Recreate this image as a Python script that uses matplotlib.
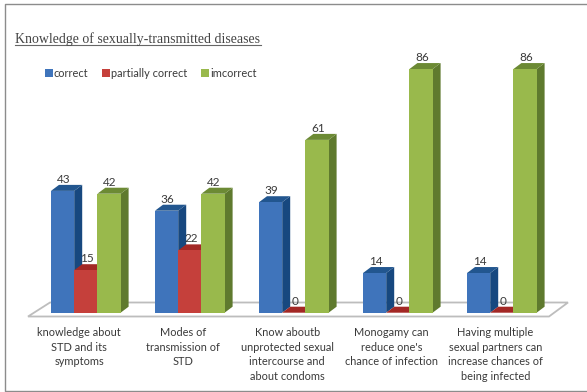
import matplotlib
matplotlib.use("Agg")
import matplotlib.pyplot as plt
from matplotlib.lines import Line2D
from matplotlib.patches import Polygon

categories = [
    "knowledge about\nSTD and its\nsymptoms",
    "Modes of\ntransmission of\nSTD",
    "Know aboutb\nunprotected sexual\nintercourse and\nabout condoms",
    "Monogamy can\nreduce one's\nchance of infection",
    "Having multiple\nsexual partners can\nincrease chances of\nbeing infected",
]
series_names = ["correct", "partially correct", "imcorrect"]
correct = [43, 36, 39, 14, 14]
partially_correct = [15, 22, 0, 0, 0]
incorrect = [42, 42, 61, 86, 86]

W, H = 587, 392
PX_GROUP = 104.0
PX_UNIT = 2.833
X0_PX = 85.8
Y0_PX = 312.7
BAR_W = 23.2 / PX_GROUP
DX = 8.0 / PX_GROUP
DY = 6.0 / PX_UNIT

FRONT = ["#3f74bb", "#c5403b", "#99b94c"]
SIDE = ["#17487f", "#8c2421", "#5f7a2e"]
TOP = ["#22568f", "#a32825", "#6c8a34"]
INK = "#3a3a3a"


def px_x(px):
    return (px - X0_PX) / PX_GROUP


def px_y(px):
    return (Y0_PX - px) / PX_UNIT


def draw_depth(ax, x, value, k):
    # side and top faces give the bar its extruded look
    left, right = x - BAR_W / 2, x + BAR_W / 2
    ax.add_patch(Polygon(
        [(right, 0), (right + DX, DY), (right + DX, value + DY), (right, value)],
        closed=True, facecolor=SIDE[k], edgecolor="none", zorder=3 + k * 0.1,
    ))
    ax.add_patch(Polygon(
        [(left, value), (left + DX, value + DY), (right + DX, value + DY), (right, value)],
        closed=True, facecolor=TOP[k], edgecolor="none", zorder=3 + k * 0.1,
    ))


def main():
    fig = plt.figure(figsize=(W / 100, H / 100), dpi=100, facecolor="white")
    ax = fig.add_axes([0, 0, 1, 1])
    ax.set_xlim(px_x(0), px_x(W))
    ax.set_ylim(px_y(H), px_y(0))
    ax.axis("off")

    # frame runs off the right edge, so it is three lines rather than a box
    fig.add_artist(Line2D(
        [1, 4.5 / W, 4.5 / W, 1],
        [1 - 4 / H, 1 - 4 / H, 1 - 390.5 / H, 1 - 390.5 / H],
        transform=fig.transFigure, color="#8c8c8c", linewidth=1.0,
    ))

    # floor of the chart
    floor = [
        (px_x(28), px_y(316.5)), (px_x(50), px_y(302.5)),
        (px_x(568), px_y(302.5)), (px_x(549), px_y(316.5)),
    ]
    ax.add_patch(Polygon(floor, closed=True, facecolor="white",
                         edgecolor="#bdbdbd", linewidth=1.3, zorder=1))

    font = "Lato"
    handles = []
    for k, values in enumerate([correct, partially_correct, incorrect]):
        xs = [i + (k - 1) * BAR_W for i in range(len(values))]
        for x, v in zip(xs, values):
            draw_depth(ax, x, v, k)
        bars = ax.bar(xs, values, width=BAR_W, color=FRONT[k], zorder=4 + k * 0.1,
                      label=series_names[k])
        handles.append(bars)
        for x, v in zip(xs, values):
            ax.text(x + 0.01, v + DY, str(v), ha="center", va="bottom",
                    fontsize=8.5, color=INK, family=font, zorder=6)

    # category labels sit a little left of their bar groups
    label_shift = 6.5 / PX_GROUP
    for i, label in enumerate(categories):
        ax.text(i - label_shift, px_y(327), label, ha="center", va="top", fontsize=7.9,
                color=INK, family=font, linespacing=1.40)

    ax.text(px_x(15), px_y(39), "Knowledge of sexually-transmitted diseases",
            ha="left", va="center", fontsize=10.0, color="#444444",
            family="Liberation Serif")
    ax.plot([px_x(15), px_x(261)], [px_y(45)] * 2, color="#666666", linewidth=0.8)

    ax.legend(
        handles=handles, loc="upper left", bbox_to_anchor=(45 / W, 1 - 68 / H),
        ncol=3, frameon=False, handlelength=0.7, handleheight=0.7,
        handletextpad=0.12, columnspacing=1.25, borderpad=0, borderaxespad=0,
        labelcolor=INK, prop={"family": font, "size": 7.9},
    )

    fig.savefig("out.png", dpi=100)
    plt.close(fig)


if __name__ == "__main__":
    main()
